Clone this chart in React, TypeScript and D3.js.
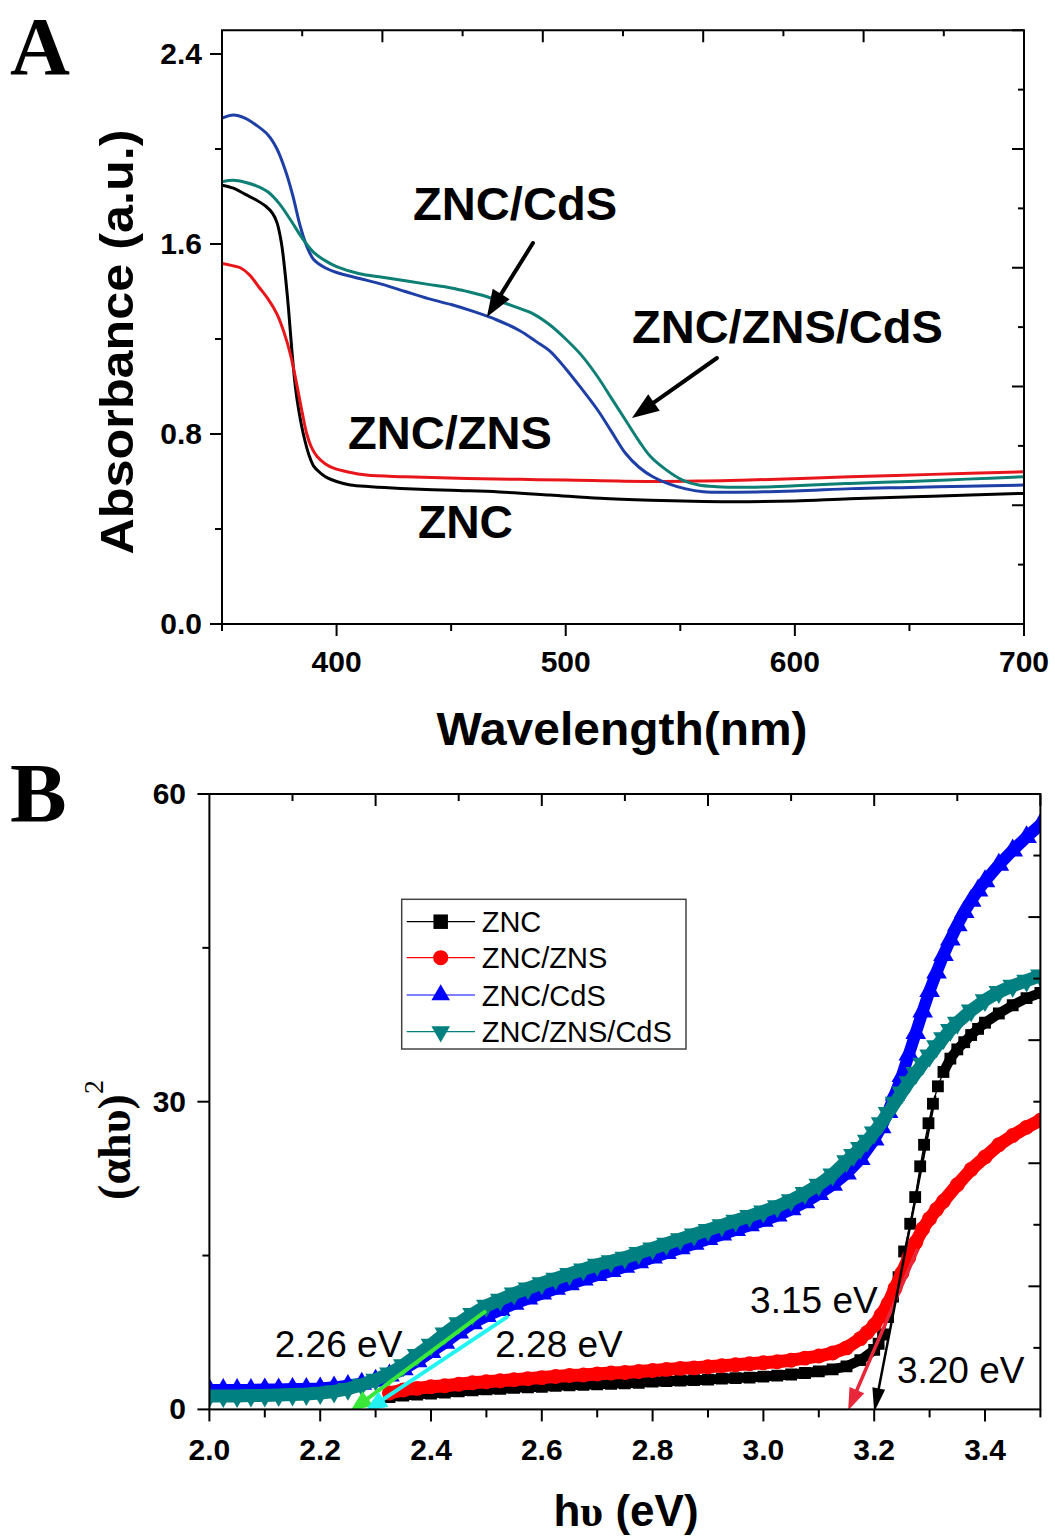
import React from "react";
import * as d3 from "d3";

// ---------------- Panel A: absorbance spectra ----------------
const aZncWl = [350, 355, 360, 365, 369, 372, 374, 376, 377.5, 379, 380.5, 382, 383.5, 385.5, 388, 390, 393, 396, 400, 406, 415, 428, 450, 471, 493, 515, 537, 560, 580, 600, 624, 660, 700];
const aZncAbs = [1.848, 1.835, 1.81, 1.785, 1.76, 1.73, 1.69, 1.6, 1.48, 1.33, 1.15, 1.0, 0.9, 0.8, 0.71, 0.665, 0.635, 0.615, 0.6, 0.585, 0.578, 0.571, 0.563, 0.556, 0.543, 0.529, 0.521, 0.516, 0.515, 0.518, 0.527, 0.538, 0.55];

const aZnsWl = [350, 354, 358, 362, 366, 370, 374, 377, 380, 383, 385, 387, 389, 391.5, 395, 399, 405, 413, 430, 457, 480, 500, 535, 560, 580, 624, 660, 700];
const aZnsAbs = [1.518, 1.51, 1.5, 1.47, 1.42, 1.37, 1.305, 1.23, 1.13, 0.99, 0.89, 0.8, 0.745, 0.705, 0.675, 0.655, 0.64, 0.627, 0.62, 0.613, 0.609, 0.606, 0.6, 0.602, 0.606, 0.62, 0.63, 0.641];

const aCdsWl = [350, 355, 360, 365, 370, 374, 378, 381, 384, 387, 390, 395, 400, 410, 420, 430, 440, 450, 460, 470, 480, 487, 493, 500, 507, 514, 520, 526, 532, 538, 545, 552, 560, 575, 600, 625, 650, 675, 700];
const aCdsAbs = [2.13, 2.143, 2.13, 2.1, 2.06, 2.0, 1.9, 1.8, 1.68, 1.59, 1.535, 1.5, 1.48, 1.455, 1.43, 1.4, 1.37, 1.345, 1.315, 1.28, 1.235, 1.19, 1.15, 1.075, 0.99, 0.9, 0.81, 0.72, 0.66, 0.62, 0.59, 0.57, 0.557, 0.555, 0.56, 0.57, 0.575, 0.58, 0.585];

const aTriWl = [350, 355, 360, 365, 370, 375, 380, 385, 390, 395, 400, 410, 420, 430, 440, 450, 457, 465, 471, 478, 486, 493, 500, 507, 514, 520, 526, 532, 537, 544, 551, 558, 566, 580, 600, 624, 650, 675, 700];
const aTriAbs = [1.862, 1.868, 1.86, 1.845, 1.82, 1.77, 1.7, 1.625, 1.565, 1.53, 1.505, 1.475, 1.46, 1.445, 1.43, 1.415, 1.4, 1.38, 1.36, 1.335, 1.305, 1.26, 1.2, 1.13, 1.04, 0.95, 0.86, 0.77, 0.705, 0.648, 0.606, 0.585, 0.578, 0.576, 0.582, 0.592, 0.6, 0.61, 0.62];

const aXMajor = [400, 500, 600, 700];
const aXMinor = [350, 450, 550, 650];
const aTopMajor = [420, 490, 560, 630, 700];
const aTopMinor = [385, 455, 525, 595, 665];
const aYMajor = [0, 0.8, 1.6, 2.4];
const aYMinor = [0.4, 1.2, 2.0];
const aRightMajor = [0.5, 1.0, 1.5, 2.0, 2.5];
const aRightMinor = [0.25, 0.75, 1.25, 1.75, 2.25];

// ---------------- Panel B: Tauc plot ----------------
const bZnc: [number, number][] = [
  [2.325, 1.2], [2.35, 1.35], [2.375, 1.45], [2.4, 1.55], [2.425, 1.65], [2.45, 1.75], [2.475, 1.85], [2.5, 1.95],
  [2.525, 2.0], [2.55, 2.1], [2.575, 2.15], [2.6, 2.2], [2.625, 2.3], [2.65, 2.35], [2.675, 2.4], [2.7, 2.45],
  [2.725, 2.5], [2.75, 2.55], [2.775, 2.6], [2.8, 2.7], [2.825, 2.75], [2.85, 2.8], [2.875, 2.85], [2.9, 2.9],
  [2.925, 3.0], [2.95, 3.05], [2.975, 3.1], [3.0, 3.2], [3.025, 3.3], [3.05, 3.4], [3.075, 3.55], [3.1, 3.7],
  [3.125, 3.9], [3.15, 4.2], [3.175, 4.8], [3.2, 5.8], [3.208, 6.4], [3.216, 7.3], [3.225, 9.0], [3.234, 11.0],
  [3.244, 12.9], [3.254, 15.4], [3.265, 18.1], [3.274, 20.7], [3.283, 23.7], [3.29, 25.8], [3.298, 27.9], [3.306, 29.8],
  [3.315, 31.5], [3.325, 32.9], [3.3375, 34.2], [3.35, 35.1], [3.3625, 35.8], [3.375, 36.5], [3.3875, 37.1], [3.4, 37.7],
  [3.425, 38.6], [3.45, 39.4], [3.475, 40.1], [3.5, 40.6],
];
const bZns: [number, number][] = [
  [2.325, 1.6], [2.35, 1.9], [2.375, 2.05], [2.4, 2.2], [2.425, 2.3], [2.45, 2.45], [2.475, 2.6], [2.5, 2.7],
  [2.525, 2.8], [2.55, 2.9], [2.575, 3.0], [2.6, 3.1], [2.625, 3.2], [2.65, 3.3], [2.675, 3.35], [2.7, 3.45],
  [2.725, 3.55], [2.75, 3.6], [2.775, 3.7], [2.8, 3.8], [2.825, 3.9], [2.85, 4.0], [2.875, 4.05], [2.9, 4.15],
  [2.925, 4.25], [2.95, 4.35], [2.975, 4.45], [3.0, 4.55], [3.025, 4.65], [3.05, 4.8], [3.075, 5.0], [3.1, 5.2],
  [3.125, 5.5], [3.15, 6.0], [3.175, 6.9], [3.1875, 7.5], [3.2, 8.2], [3.2125, 9.2], [3.225, 10.3], [3.2375, 11.8],
  [3.25, 13.3], [3.2625, 14.8], [3.275, 16.3], [3.2875, 17.6], [3.3, 18.6], [3.3125, 19.5], [3.325, 20.3], [3.35, 21.9],
  [3.375, 23.4], [3.4, 24.6], [3.425, 25.8], [3.45, 26.7], [3.475, 27.5], [3.5, 28.2],
];
const bCds: [number, number][] = [
  [2.0, 1.9], [2.025, 1.9], [2.05, 1.9], [2.075, 1.9], [2.1, 1.95], [2.125, 1.95], [2.15, 2.0], [2.175, 2.0],
  [2.2, 2.05], [2.225, 2.15], [2.25, 2.3], [2.275, 2.5], [2.3, 2.8], [2.325, 3.3], [2.35, 3.9], [2.375, 4.7],
  [2.4, 5.6], [2.425, 6.5], [2.45, 7.5], [2.475, 8.4], [2.5, 9.1], [2.525, 9.7], [2.55, 10.3], [2.575, 10.8],
  [2.6, 11.3], [2.625, 11.75], [2.65, 12.2], [2.675, 12.65], [2.7, 13.1], [2.725, 13.5], [2.75, 13.9], [2.775, 14.35],
  [2.8, 14.8], [2.825, 15.25], [2.85, 15.7], [2.875, 16.15], [2.9, 16.6], [2.925, 17.05], [2.95, 17.5], [2.975, 17.95],
  [3.0, 18.4], [3.025, 18.9], [3.05, 19.5], [3.075, 20.2], [3.1, 21.0], [3.125, 21.9], [3.15, 23.0], [3.175, 24.4],
  [3.2, 26.3], [3.2125, 27.5], [3.225, 29.0], [3.2375, 30.7], [3.25, 32.5], [3.2625, 34.6], [3.275, 36.7], [3.2875, 38.8],
  [3.3, 40.8], [3.3125, 42.6], [3.325, 44.3], [3.3375, 45.8], [3.35, 47.2], [3.3625, 48.5], [3.375, 49.6], [3.3875, 50.6],
  [3.4, 51.5], [3.425, 53.1], [3.45, 54.5], [3.475, 55.8], [3.5, 57.0],
];
const bTri: [number, number][] = [
  [2.0, 1.3], [2.025, 1.3], [2.05, 1.3], [2.075, 1.35], [2.1, 1.35], [2.125, 1.4], [2.15, 1.45], [2.175, 1.5],
  [2.2, 1.6], [2.225, 1.75], [2.25, 2.0], [2.275, 2.4], [2.3, 2.9], [2.325, 3.5], [2.35, 4.3], [2.375, 5.3],
  [2.4, 6.3], [2.425, 7.4], [2.45, 8.4], [2.475, 9.3], [2.5, 10.1], [2.525, 10.7], [2.55, 11.3], [2.575, 11.8],
  [2.6, 12.3], [2.625, 12.75], [2.65, 13.2], [2.675, 13.65], [2.7, 14.1], [2.725, 14.45], [2.75, 14.8], [2.775, 15.25],
  [2.8, 15.7], [2.825, 16.15], [2.85, 16.6], [2.875, 17.05], [2.9, 17.5], [2.925, 17.95], [2.95, 18.4], [2.975, 18.85],
  [3.0, 19.3], [3.025, 19.8], [3.05, 20.4], [3.075, 21.1], [3.1, 21.9], [3.125, 22.9], [3.15, 24.2], [3.1625, 24.8],
  [3.175, 25.5], [3.1875, 26.2], [3.2, 27.0], [3.2125, 27.9], [3.225, 28.9], [3.2375, 29.9], [3.25, 30.9], [3.2625, 31.9],
  [3.275, 32.8], [3.2875, 33.7], [3.3, 34.5], [3.3125, 35.4], [3.325, 36.2], [3.3375, 37.0], [3.35, 37.7], [3.375, 38.9],
  [3.4, 39.9], [3.425, 40.7], [3.45, 41.3], [3.475, 41.8], [3.5, 42.3],
];

const bXMajor = [2.0, 2.2, 2.4, 2.6, 2.8, 3.0, 3.2, 3.4];
const bXMinor = [2.1, 2.3, 2.5, 2.7, 2.9, 3.1, 3.3, 3.5];
const bTopMajor = [2.3, 2.6, 2.9, 3.2, 3.5];
const bTopMinor = [2.15, 2.45, 2.75, 3.05, 3.35];
const bYMajor = [0, 30, 60];
const bYMinor = [15, 45];
const bRightMajor = [12, 24, 36, 48, 60];
const bRightMinor = [6, 18, 30, 42, 54];

const legendNames = ["ZNC", "ZNC/ZNS", "ZNC/CdS", "ZNC/ZNS/CdS"];

const SANS = '"Liberation Sans", Arial, Helvetica, sans-serif';
const SERIF = '"Liberation Serif", "Times New Roman", Times, serif';

type Pt = [number, number];

function Arrow({ from, to, color, width, hl, hw }: { from: Pt; to: Pt; color: string; width: number; hl: number; hw: number }) {
  const [x1, y1] = from;
  const [x2, y2] = to;
  const a = Math.atan2(y2 - y1, x2 - x1);
  const bx = x2 - hl * Math.cos(a);
  const by = y2 - hl * Math.sin(a);
  const px = (hw / 2) * Math.sin(a);
  const py = (hw / 2) * Math.cos(a);
  const pts = `${x2},${y2} ${bx + px},${by - py} ${bx - px},${by + py}`;
  return (
    <g>
      <line x1={x1} y1={y1} x2={bx + hl * 0.3 * Math.cos(a)} y2={by + hl * 0.3 * Math.sin(a)} stroke={color} strokeWidth={width} strokeLinecap="round" />
      <polygon points={pts} fill={color} />
    </g>
  );
}

export default function App() {
  const xA = d3.scaleLinear().domain([350, 700]).range([222, 1024]);
  const yA = d3.scaleLinear().domain([0, 2.5]).range([624, 30.25]);
  const xB = d3.scaleLinear().domain([2, 3.5]).range([209.4, 1040.4]);
  const yB = d3.scaleLinear().domain([0, 60]).range([1409.4, 794]);

  const lineA = (wl: number[], ab: number[]) =>
    d3
      .line<number>()
      .x((_, i) => xA(wl[i]))
      .y((d) => yA(d))
      .curve(d3.curveCatmullRom.alpha(0.5))(ab) || "";

  const lineB = d3
    .line<Pt>()
    .x((d) => xB(d[0]))
    .y((d) => yB(d[1]));

  const sq = d3.symbol().type(d3.symbolSquare).size(140)() || "";
  const ci = d3.symbol().type(d3.symbolCircle).size(175)() || "";
  const tr = d3.symbol().type(d3.symbolTriangle).size(185)() || "";
  const sqL = d3.symbol().type(d3.symbolSquare).size(210)() || "";
  const ciL = d3.symbol().type(d3.symbolCircle).size(180)() || "";
  const trL = d3.symbol().type(d3.symbolTriangle).size(150)() || "";

  // band = the dense run of overlapping markers; black steep part shows separate squares
  const seriesB = [
    { data: bZnc, color: "#000000", sym: sq, symL: sqL, rot: 0, band: 10, gap: [3.2, 3.325] },
    { data: bZns, color: "#ff0000", sym: ci, symL: ciL, rot: 0, band: 13, gap: [9, 9] },
    { data: bCds, color: "#0000ff", sym: tr, symL: trL, rot: 0, band: 12, gap: [9, 9] },
    { data: bTri, color: "#008080", sym: tr, symL: trL, rot: 180, band: 13, gap: [9, 9] },
  ];

  const seriesA = [
    { wl: aZncWl, ab: aZncAbs, color: "#000000" },
    { wl: aZnsWl, ab: aZnsAbs, color: "#e8161b" },
    { wl: aCdsWl, ab: aCdsAbs, color: "#1e3fa6" },
    { wl: aTriWl, ab: aTriAbs, color: "#0d7f74" },
  ];

  const fmt1 = d3.format(".1f");

  const aL = xA(350), aR = xA(700), aT = yA(2.5), aB = yA(0);
  const bL = xB(2), bR = xB(3.5), bT = yB(60), bBo = yB(0);

  const annA = [
    { text: "ZNC/CdS", x: 433.4, y: 1.7, len: 204 },
    { text: "ZNC/ZNS/CdS", x: 528.9, y: 1.183, len: 311 },
    { text: "ZNC/ZNS", x: 405, y: 0.737, len: 204 },
    { text: "ZNC", x: 435.5, y: 0.362, len: 95 },
  ];
  const arrowsA: { from: Pt; to: Pt }[] = [
    { from: [485.7, 1.604], to: [465.6, 1.293] },
    { from: [566, 1.12], to: [528.9, 0.867] },
  ];
  const annB = [
    { text: "2.26 eV", x: 2.118, y: 5.14 },
    { text: "2.28 eV", x: 2.516, y: 5.14 },
    { text: "3.15 eV", x: 2.976, y: 9.4 },
    { text: "3.20 eV", x: 3.241, y: 2.57 },
  ];
  const arrowsB: { from: Pt; to: Pt; color: string; w: number; hl: number; hw: number }[] = [
    { from: [2.497, 9.5], to: [2.254, -0.2], color: "#3ae83a", w: 4, hl: 22, hw: 18 },
    { from: [2.537, 9.0], to: [2.281, -0.2], color: "#22f2f2", w: 4, hl: 22, hw: 18 },
    { from: [3.277, 15.5], to: [3.153, -0.1], color: "#e8283a", w: 3.5, hl: 22, hw: 16 },
    { from: [3.31, 30.5], to: [3.2, -0.25], color: "#000000", w: 2.5, hl: 24, hw: 13 },
  ];

  const legendY = [921.7, 957.7, 995, 1031.7];

  return (
    <svg width={1055} height={1540} style={{ position: "absolute", left: 0, top: 0 }} xmlns="http://www.w3.org/2000/svg">
      <rect x={0} y={0} width={1055} height={1540} fill="#ffffff" />
      <defs>
        <clipPath id="clipA">
          <rect x={aL} y={aT} width={aR - aL} height={aB - aT} />
        </clipPath>
        <clipPath id="clipB">
          <rect x={bL} y={bT} width={bR - bL} height={bBo - bT} />
        </clipPath>
      </defs>

      {/* ============ Panel A ============ */}
      <text x={10} y={74} fontFamily={SERIF} fontWeight="bold" fontSize={83}>A</text>
      <g clipPath="url(#clipA)">
        {seriesA.map((s, i) => (
          <path key={i} d={lineA(s.wl, s.ab)} fill="none" stroke={s.color} strokeWidth={3} strokeLinejoin="round" />
        ))}
      </g>
      <rect x={aL} y={aT} width={aR - aL} height={aB - aT} fill="none" stroke="#000" strokeWidth={2} />
      <g stroke="#000" strokeWidth={2}>
        {aXMajor.map((v) => <line key={"axM" + v} x1={xA(v)} x2={xA(v)} y1={aB} y2={aB + 12} />)}
        {aXMinor.map((v) => <line key={"axm" + v} x1={xA(v)} x2={xA(v)} y1={aB} y2={aB + 7} />)}
        {aTopMajor.map((v) => <line key={"atM" + v} x1={xA(v)} x2={xA(v)} y1={aT} y2={aT + 12} />)}
        {aTopMinor.map((v) => <line key={"atm" + v} x1={xA(v)} x2={xA(v)} y1={aT} y2={aT + 6} />)}
        {aYMajor.map((v) => <line key={"ayM" + v} x1={aL} x2={aL - 12} y1={yA(v)} y2={yA(v)} />)}
        {aYMinor.map((v) => <line key={"aym" + v} x1={aL} x2={aL - 7} y1={yA(v)} y2={yA(v)} />)}
        {aRightMajor.map((v) => <line key={"arM" + v} x1={aR} x2={aR - 12} y1={yA(v)} y2={yA(v)} />)}
        {aRightMinor.map((v) => <line key={"arm" + v} x1={aR} x2={aR - 6} y1={yA(v)} y2={yA(v)} />)}
      </g>
      <g fontFamily={SANS} fontWeight="bold" fontSize={30} fill="#000">
        {aXMajor.map((v) => (
          <text key={"axl" + v} x={xA(v)} y={672} textAnchor="middle">{v}</text>
        ))}
        {aYMajor.map((v) => (
          <text key={"ayl" + v} x={202} y={yA(v) + 10} textAnchor="end">{fmt1(v)}</text>
        ))}
      </g>
      <text x={622} y={745} textAnchor="middle" fontFamily={SANS} fontWeight="bold" fontSize={46} textLength={371} lengthAdjust="spacingAndGlyphs">Wavelength(nm)</text>
      <text transform="translate(133,342) rotate(-90)" textAnchor="middle" fontFamily={SANS} fontWeight="bold" fontSize={46} textLength={425} lengthAdjust="spacingAndGlyphs">Absorbance (a.u.)</text>
      <g fontFamily={SANS} fontWeight="bold" fontSize={46} fill="#000">
        {annA.map((t) => (
          <text key={t.text} x={xA(t.x)} y={yA(t.y)} textLength={t.len} lengthAdjust="spacingAndGlyphs">{t.text}</text>
        ))}
      </g>
      {arrowsA.map((a, i) => (
        <Arrow key={"aa" + i} from={[xA(a.from[0]), yA(a.from[1])]} to={[xA(a.to[0]), yA(a.to[1])]} color="#000" width={4} hl={27} hw={20} />
      ))}

      {/* ============ Panel B ============ */}
      <text x={10} y={822} fontFamily={SERIF} fontWeight="bold" fontSize={85}>B</text>
      <g clipPath="url(#clipB)">
        {seriesB.map((s, i) => (
          <g key={i}>
            <path
              d={lineB.defined((d) => d[0] <= s.gap[0] || d[0] >= s.gap[1])(s.data) || ""}
              fill="none"
              stroke={s.color}
              strokeWidth={s.band}
              strokeLinejoin="round"
            />
            <path d={lineB.defined(() => true)(s.data) || ""} fill="none" stroke={s.color} strokeWidth={1.3} />
            {s.data.map((d, j) => (
              <path key={j} d={s.sym} fill={s.color} transform={`translate(${xB(d[0])},${yB(d[1])}) rotate(${s.rot})`} />
            ))}
          </g>
        ))}
        {arrowsB.map((a, i) => (
          <Arrow key={"ab" + i} from={[xB(a.from[0]), yB(a.from[1])]} to={[xB(a.to[0]), yB(a.to[1])]} color={a.color} width={a.w} hl={a.hl} hw={a.hw} />
        ))}
      </g>
      <rect x={bL} y={bT} width={bR - bL} height={bBo - bT} fill="none" stroke="#000" strokeWidth={2} />
      <g stroke="#000" strokeWidth={2}>
        {bXMajor.map((v) => <line key={"bxM" + v} x1={xB(v)} x2={xB(v)} y1={bBo} y2={bBo + 12} />)}
        {bXMinor.map((v) => <line key={"bxm" + v} x1={xB(v)} x2={xB(v)} y1={bBo} y2={bBo + 8} />)}
        {bTopMajor.map((v) => <line key={"btM" + v} x1={xB(v)} x2={xB(v)} y1={bT} y2={bT + 12} />)}
        {bTopMinor.map((v) => <line key={"btm" + v} x1={xB(v)} x2={xB(v)} y1={bT} y2={bT + 7} />)}
        {bYMajor.map((v) => <line key={"byM" + v} x1={bL} x2={bL - 12} y1={yB(v)} y2={yB(v)} />)}
        {bYMinor.map((v) => <line key={"bym" + v} x1={bL} x2={bL - 7} y1={yB(v)} y2={yB(v)} />)}
        {bRightMajor.map((v) => <line key={"brM" + v} x1={bR} x2={bR - 12} y1={yB(v)} y2={yB(v)} />)}
        {bRightMinor.map((v) => <line key={"brm" + v} x1={bR} x2={bR - 7} y1={yB(v)} y2={yB(v)} />)}
      </g>
      <g fontFamily={SANS} fontWeight="bold" fontSize={30} fill="#000">
        {bXMajor.map((v) => (
          <text key={"bxl" + v} x={xB(v)} y={1460} textAnchor="middle">{fmt1(v)}</text>
        ))}
        {bYMajor.map((v) => (
          <text key={"byl" + v} x={186} y={yB(v) + 10} textAnchor="end">{v}</text>
        ))}
      </g>
      <text x={626} y={1526} textAnchor="middle" fontFamily={SANS} fontWeight="bold" fontSize={44}>
        h<tspan fontFamily={SERIF}>υ</tspan> (eV)
      </text>
      <text transform="translate(130,1140) rotate(-90)" textAnchor="middle" fontFamily={SERIF} fontWeight="bold" fontSize={46}>
        (αhυ)<tspan fontWeight="normal" fontSize={28} dy={-27}>2</tspan>
      </text>
      <g fontFamily={SANS} fontSize={37} fill="#000">
        {annB.map((t) => (
          <text key={t.text} x={xB(t.x)} y={yB(t.y)}>{t.text}</text>
        ))}
      </g>

      {/* legend */}
      <rect x={401.7} y={899.3} width={284.3} height={149.7} fill="#fff" stroke="#444" strokeWidth={1.5} />
      {seriesB.map((s, i) => (
        <g key={"lg" + i}>
          <line x1={406.7} x2={475} y1={legendY[i]} y2={legendY[i]} stroke={s.color} strokeWidth={1.2} />
          <path d={s.symL} fill={s.color} transform={`translate(440.7,${legendY[i]}) rotate(${s.rot})`} />
          <text x={481.7} y={legendY[i] + 10.5} fontFamily={SANS} fontSize={29} fill="#000">{legendNames[i]}</text>
        </g>
      ))}
    </svg>
  );
}
